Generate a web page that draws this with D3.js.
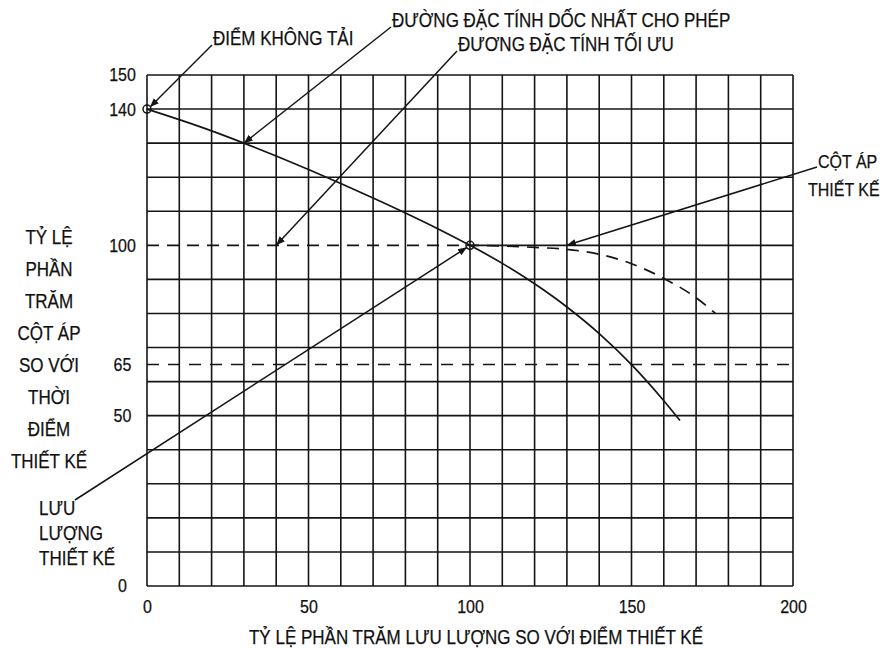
<!DOCTYPE html>
<html><head><meta charset="utf-8">
<script src="https://cdn.jsdelivr.net/npm/d3@7"></script>
<style>
html,body{margin:0;padding:0;background:#fff;}
svg text{font-family:"Liberation Sans",Arial,sans-serif;fill:#111;}
</style></head>
<body>
<svg id="c" width="895" height="648"></svg>
<script>
// ---- data ----
const xTicks = [0, 50, 100, 150, 200];
const yTicks = [0, 50, 65, 100, 140, 150];
const gridX = d3.range(0, 201, 10);
const gridY = [0,10,20,30,40,50,60,70,80,90,110,120,130,140,150];
const pumpX = [0,10,20,30,40,50,60,70,80,90,100,110,120,130,140,150,160,165];
const pumpY = [140,136.9,133.6,130,126.2,122.25,118.15,113.9,109.5,104.9,100,94.7,88.7,81.9,74.1,65,54.4,48.6];
const designX = [0,100,110,120,130,140,150,160,170,176];
const designY = [100,100,99.8,99.4,98.8,97.4,94.6,90.3,84.6,80];
const minHead = 65;
const leftTitle = ["TỶ LỆ","PHẦN","TRĂM","CỘT ÁP","SO VỚI","THỜI","ĐIỂM","THIẾT KẾ"];
const flowLabel = ["LƯU","LƯỢNG","THIẾT KẾ"];
const headLabel = ["CỘT ÁP","THIẾT KẾ"];
const xTitle = "TỶ LỆ PHẦN TRĂM LƯU LƯỢNG SO VỚI ĐIỂM THIẾT KẾ";
const notes = [
  {t:"ĐIỂM KHÔNG TẢI", x:0, y:140, tx:213, ty:38, lx:212, ly:45},
  {t:"ĐƯỜNG ĐẶC TÍNH DỐC NHẤT CHO PHÉP", x:30, y:130, tx:392, ty:20, lx:391, ly:27},
  {t:"ĐƯƠNG ĐẶC TÍNH TỐI ƯU", x:40, y:100, tx:458, ty:44, lx:457, ly:51}
];

// ---- layout ----
const svg = d3.select("#c");
const L = 147, R = 793, T = 75, B = 586;
const x = d3.scaleLinear().domain([0,200]).range([L,R]);
const y = d3.scaleLinear().domain([0,150]).range([B,T]);
const ink = "#151515";

const defs = svg.append("defs");
defs.append("marker").attr("id","arr").attr("viewBox","0 0 10 10")
  .attr("refX",10).attr("refY",5).attr("markerWidth",9).attr("markerHeight",9)
  .attr("markerUnits","userSpaceOnUse").attr("orient","auto")
  .append("path").attr("d","M0,1 L10,5 L0,9 Z").attr("fill",ink);

const g = svg.append("g");
g.selectAll("line.v").data(gridX).enter().append("line")
  .attr("x1",d=>x(d)).attr("x2",d=>x(d)).attr("y1",y(0)).attr("y2",y(150))
  .attr("stroke",ink).attr("stroke-width",1.6);
g.selectAll("line.h").data(gridY).enter().append("line")
  .attr("x1",x(0)).attr("x2",x(200)).attr("y1",d=>y(d)).attr("y2",d=>y(d))
  .attr("stroke",ink).attr("stroke-width",1.6);
g.append("line").attr("x1",x(100)).attr("x2",x(200)).attr("y1",y(100)).attr("y2",y(100))
  .attr("stroke",ink).attr("stroke-width",1.6);

g.append("line").attr("x1",x(0)).attr("x2",x(200)).attr("y1",y(minHead)).attr("y2",y(minHead))
  .attr("stroke",ink).attr("stroke-width",1.6).attr("stroke-dasharray","12,9");

const line = d3.line().x(d=>x(d[0])).y(d=>y(d[1])).curve(d3.curveMonotoneX);
svg.append("path").datum(d3.zip(designX,designY)).attr("d",line)
  .attr("fill","none").attr("stroke",ink).attr("stroke-width",1.7).attr("stroke-dasharray","12,8");

svg.append("path").datum(d3.zip(pumpX,pumpY)).attr("d",line)
  .attr("fill","none").attr("stroke",ink).attr("stroke-width",1.7);

svg.selectAll("circle.p").data([[0,140],[100,100]]).enter().append("circle")
  .attr("cx",d=>x(d[0])).attr("cy",d=>y(d[1])).attr("r",4)
  .attr("fill","none").attr("stroke",ink).attr("stroke-width",1.5);

const xa = svg.append("g").attr("transform",`translate(0,${B})`)
  .call(d3.axisBottom(x).tickValues(xTicks).tickSize(0).tickPadding(14).tickFormat(d3.format("d")));
xa.select(".domain").remove();
xa.selectAll("text").style("font-size","16px").attr("fill",ink);
const ya = svg.append("g").attr("transform",`translate(${L},0)`)
  .call(d3.axisLeft(y).tickValues(yTicks).tickSize(0).tickFormat(d3.format("d")));
ya.select(".domain").remove();
ya.selectAll("text").style("font-size","16px").attr("text-anchor","middle").attr("x",-24.5).attr("fill",ink);

svg.append("text").attr("x",(L+R)/2+6).attr("y",637).attr("dy","0.35em")
  .attr("text-anchor","middle").style("font-size","17px").text(xTitle);
svg.selectAll("text.lt").data(leftTitle).enter().append("text")
  .attr("x",49).attr("y",(d,i)=>237+i*32).attr("dy","0.35em")
  .attr("text-anchor","middle").style("font-size","17px").text(d=>d);

svg.selectAll("text.fl").data(flowLabel).enter().append("text")
  .attr("x",39).attr("y",(d,i)=>508+i*25).attr("dy","0.35em")
  .style("font-size","17px").text(d=>d);
svg.append("line").attr("x1",75).attr("y1",500).attr("x2",x(100)-3).attr("y2",y(100)+2)
  .attr("stroke",ink).attr("stroke-width",1.5).attr("marker-end","url(#arr)");

svg.selectAll("text.hl").data(headLabel).enter().append("text")
  .attr("x",(d,i)=>i?808:818).attr("y",(d,i)=>162+i*28).attr("dy","0.35em")
  .style("font-size","16px").text(d=>d);
svg.append("line").attr("x1",817).attr("y1",167).attr("x2",x(130)).attr("y2",y(100))
  .attr("stroke",ink).attr("stroke-width",1.5).attr("marker-end","url(#arr)");

notes.forEach(n=>{
  svg.append("text").attr("x",n.tx).attr("y",n.ty).attr("dy","0.35em")
    .style("font-size","17px").text(n.t);
  let tx = x(n.x), ty = y(n.y);
  if (n.x===0) { tx += 3; ty -= 2; }
  svg.append("line").attr("x1",n.lx).attr("y1",n.ly).attr("x2",tx).attr("y2",ty)
    .attr("stroke",ink).attr("stroke-width",1.5).attr("marker-end","url(#arr)");
});

// make glyphs taller but keep the same widths (condensed look of the reference)
svg.selectAll("text").each(function(){
  const w = this.getComputedTextLength();
  const fs = parseFloat(this.style.fontSize);
  d3.select(this).style("font-size",(fs*1.16)+"px")
    .attr("textLength",w).attr("lengthAdjust","spacingAndGlyphs")
    .style("stroke","#111").style("stroke-width","0.25px");
});
</script>
</body></html>
